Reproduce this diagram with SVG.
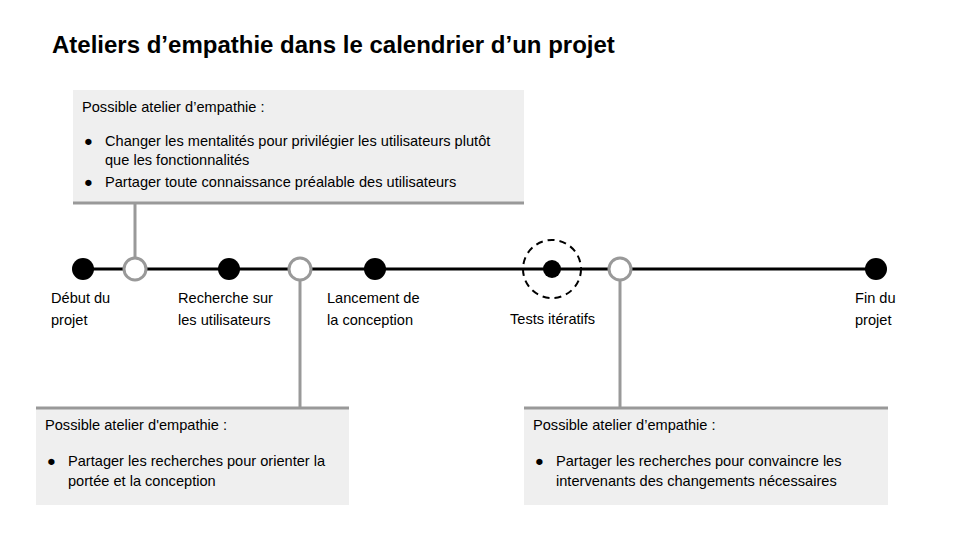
<svg xmlns="http://www.w3.org/2000/svg" width="960" height="540" viewBox="0 0 960 540">
<style>
text{font-family:"Liberation Sans",Arial,sans-serif;font-size:14.6px;fill:#000}
.title{font-size:24px;font-weight:bold}
.box{fill:#efefef}
.bar{stroke:#999;stroke-width:3}
.conn{stroke:#999;stroke-width:3;fill:none}
.open{fill:#fff;stroke:#999;stroke-width:3}
.dot{fill:#000}
</style>
<rect width="960" height="540" fill="#fff"/>
<text class="title" x="52" y="53">Ateliers d’empathie dans le calendrier d’un projet</text>

<g id="connectors">
<line class="conn" x1="135" y1="203" x2="135" y2="258"/>
<line class="conn" x1="300" y1="280" x2="300" y2="407"/>
<line class="conn" x1="620" y1="280" x2="620" y2="407"/>
<line x1="83" y1="269" x2="876" y2="269" stroke="#000" stroke-width="3"/>
</g>

<g id="box-top">
<rect class="box" x="73" y="90" width="451" height="113"/>
<line class="bar" x1="73" y1="203" x2="524" y2="203"/>
<text x="82" y="112">Possible atelier d’empathie :</text>
<text x="84" y="146">●</text>
<text x="105" y="146">Changer les mentalités pour privilégier les utilisateurs plutôt</text>
<text x="105" y="165">que les fonctionnalités</text>
<text x="84" y="187">●</text>
<text x="105" y="187">Partager toute connaissance préalable des utilisateurs</text>
</g>

<g id="box-left">
<rect class="box" x="36" y="407" width="313" height="98"/>
<line class="bar" x1="36" y1="408" x2="349" y2="408"/>
<text x="45" y="430">Possible atelier d'empathie :</text>
<text x="47" y="466">●</text>
<text x="68" y="466">Partager les recherches pour orienter la</text>
<text x="68" y="486">portée et la conception</text>
</g>

<g id="box-right">
<rect class="box" x="524" y="407" width="364" height="98"/>
<line class="bar" x1="524" y1="408" x2="888" y2="408"/>
<text x="533" y="430">Possible atelier d’empathie :</text>
<text x="535" y="466">●</text>
<text x="556" y="466">Partager les recherches pour convaincre les</text>
<text x="556" y="486">intervenants des changements nécessaires</text>
</g>

<g id="m-debut">
<circle class="dot" cx="83" cy="269" r="11"/>
<text x="51" y="303">Début du</text>
<text x="51" y="325">projet</text>
</g>
<g id="w-1"><circle class="open" cx="135" cy="269" r="11"/></g>
<g id="m-recherche">
<circle class="dot" cx="229" cy="269" r="11"/>
<text x="178" y="303">Recherche sur</text>
<text x="178" y="325">les utilisateurs</text>
</g>
<g id="w-2"><circle class="open" cx="300" cy="269" r="11"/></g>
<g id="m-lancement">
<circle class="dot" cx="375" cy="269" r="11"/>
<text x="327" y="303">Lancement de</text>
<text x="327" y="325">la conception</text>
</g>
<g id="m-tests">
<circle cx="552" cy="269" r="29" fill="none" stroke="#000" stroke-width="2" stroke-dasharray="7,5"/>
<circle class="dot" cx="552" cy="269" r="9"/>
<text x="510" y="324">Tests itératifs</text>
</g>
<g id="w-3"><circle class="open" cx="620" cy="269" r="11"/></g>
<g id="m-fin">
<circle class="dot" cx="876" cy="269" r="11"/>
<text x="855" y="303">Fin du</text>
<text x="855" y="325">projet</text>
</g>
</svg>
